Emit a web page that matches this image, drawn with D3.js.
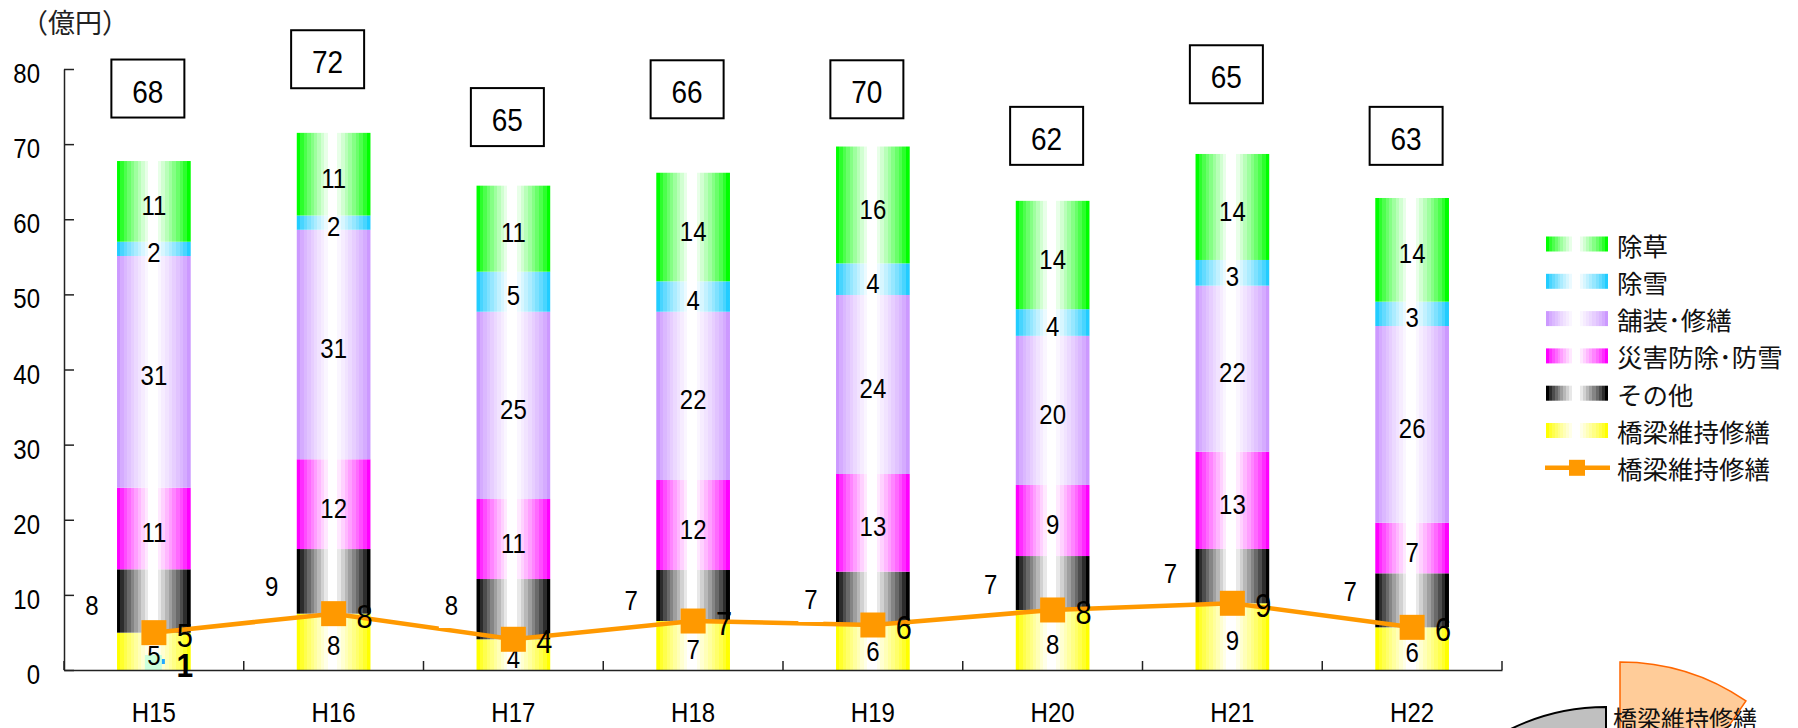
<!DOCTYPE html>
<html><head><meta charset="utf-8">
<script src="https://cdn.jsdelivr.net/npm/d3@7"></script>
<style>body{margin:0;background:#fff}svg{display:block}</style>
</head><body><svg id="c" width="1798" height="728"></svg>
<script>
// ---------- data ----------
const categories = ["H15","H16","H17","H18","H19","H20","H21","H22"];
const bridge   = [4.97, 7.5, 4.09, 6.52, 5.99, 7.99, 8.88, 5.68];     // 橋梁維持修繕 (bar)
const other    = [8.43, 8.6, 8.02, 6.79, 7.1, 7.18, 7.23, 7.19];      // その他
const disaster = [10.87, 11.95, 10.65, 11.98, 13.0, 9.46, 12.95, 6.74]; // 災害防除･防雪
const paving   = [30.84, 30.55, 24.93, 22.4, 23.83, 19.85, 22.1, 26.18]; // 舗装･修繕
const snow     = [1.9, 1.9, 5.33, 4.05, 4.21, 3.55, 3.42, 3.24];       // 除雪
const weed     = [10.74, 11.0, 11.45, 14.45, 15.55, 14.42, 14.11, 13.8]; // 除草
const lineBridge = [4.97, 7.5, 4.09, 6.52, 5.99, 7.99, 8.88, 5.68];   // 橋梁維持修繕 (line)
const totalLabels = [68, 72, 65, 66, 70, 62, 65, 63];
const totalLabelLevel = [77.4, 81.3, 73.6, 77.3, 77.3, 71.1, 79.3, 71.1];
const otherLabelLevel = [8.65, 11.18, 8.65, 9.32, 9.45, 11.34, 12.91, 10.42];
const yTicks = [0, 10, 20, 30, 40, 50, 60, 70, 80];
const seriesKeys = ["bridge","other","disaster","paving","snow","weed"];
const seriesNames = ["橋梁維持修繕","その他","災害防除･防雪","舗装･修繕","除雪","除草"];
const seriesColors = ["#FFFF00","#000000","#FF00FF","#CC99FF","#22CCFF","#00FF00"];
const legendOrder = ["weed","snow","paving","disaster","other","bridge"];
const lineName = "橋梁維持修繕";
const unitLabel = "（億円）";
const cornerLabel = "橋梁維持修繕";

// ---------- setup ----------
const svg = d3.select("#c");
const NUM = "'Liberation Sans', Arial, sans-serif";
const CJK = "'Noto Sans CJK JP', 'Noto Sans', sans-serif";
const ORANGE = "#FF9900";
const defs = svg.append("defs");

const table = categories.map((c, i) => ({cat: c, bridge: bridge[i], other: other[i], disaster: disaster[i],
  paving: paving[i], snow: snow[i], weed: weed[i]}));
const stacked = d3.stack().keys(seriesKeys)(table);

const x = d3.scaleBand().domain(categories).range([64, 1502]).padding(0);
const y = d3.scaleLinear().domain([0, 80]).range([670, 69]);
const bw = x.bandwidth() * 0.41;
const cx = c => x(c) + x.bandwidth() / 2;

function makeGrad(id, color) {
  const g = defs.append("linearGradient").attr("id", id)
    .attr("x1", 0).attr("x2", 1).attr("y1", 0).attr("y2", 0);
  const n = 9, wl = 0.42, wr = 0.55;
  const it = d3.interpolateRgb(color, "#ffffff");
  for (let i = 0; i < n; i++) {
    const c = it(Math.pow(i / n, 0.8));
    g.append("stop").attr("offset", i * wl / n).attr("stop-color", c);
    g.append("stop").attr("offset", (i + 1) * wl / n).attr("stop-color", c);
  }
  g.append("stop").attr("offset", wl).attr("stop-color", "#fff");
  g.append("stop").attr("offset", wr).attr("stop-color", "#fff");
  for (let i = 0; i < n; i++) {
    const c = it(Math.pow(1 - (i + 1) / n, 0.8));
    g.append("stop").attr("offset", wr + i * (1 - wr) / n).attr("stop-color", c);
    g.append("stop").attr("offset", wr + (i + 1) * (1 - wr) / n).attr("stop-color", c);
  }
}
seriesKeys.forEach((k, i) => makeGrad("g_" + k, seriesColors[i]));

function sText(g, px, py, txt, size, opt = {}) {
  const k = opt.k || 1.15;
  return g.append("text")
    .attr("transform", `translate(${px},${py}) scale(1,${k})`)
    .attr("text-anchor", opt.anchor || "middle")
    .attr("dominant-baseline", "central")
    .attr("font-family", opt.font || NUM)
    .attr("font-size", size)
    .attr("font-weight", opt.weight || "normal")
    .attr("fill", "#000")
    .text(txt);
}

// ---------- bars ----------
const barG = svg.append("g");
stacked.forEach(s => {
  barG.selectAll(null).data(s).join("rect")
    .attr("x", d => cx(d.data.cat) - bw / 2)
    .attr("width", bw)
    .attr("y", d => y(d[1]))
    .attr("height", d => y(d[0]) - y(d[1]))
    .attr("fill", `url(#g_${s.key})`);
});

// small artefacts at bottom of the first bar
const c0 = cx(categories[0]);
barG.append("rect").attr("x", c0 - 9).attr("y", y(0) - 15).attr("width", 17).attr("height", 15).attr("fill", "#CCFFDD");
barG.append("rect").attr("x", c0 + 8).attr("y", y(0) - 11).attr("width", 3).attr("height", 5).attr("fill", "#22AAFF");

// labels inside segments (all except その他)
const labG = svg.append("g");
stacked.forEach(s => {
  if (s.key === "other") return;
  s.forEach(d => {
    sText(labG, cx(d.data.cat), (y(d[0]) + y(d[1])) / 2 + 4, Math.round(d[1] - d[0]), 24);
  });
});

// ---------- axes ----------
const yAxis = d3.axisLeft(y).tickValues(yTicks).tickSize(-10).tickSizeOuter(0).tickPadding(24);
const yg = svg.append("g").attr("transform", `translate(${x.range()[0]},0)`).call(yAxis);
yg.select(".domain").attr("stroke", "#222").attr("stroke-width", 1.5);
yg.selectAll(".tick line").attr("stroke", "#222").attr("stroke-width", 1.5);
yg.selectAll(".tick text").attr("dy", null).attr("y", 4 / 1.15).attr("dominant-baseline", "central")
  .attr("transform", "scale(1,1.15)").attr("font-family", NUM).attr("font-size", 24).attr("fill", "#000");

const xAxis = d3.axisBottom(x).tickSize(0).tickSizeOuter(0);
const xg = svg.append("g").attr("transform", `translate(0,${y(0)})`).call(xAxis);
xg.select(".domain").attr("stroke", "#222").attr("stroke-width", 1.5);
xg.selectAll(".tick text").attr("dy", null).attr("y", 42 / 1.15).attr("dominant-baseline", "central")
  .attr("transform", "scale(1,1.15)").attr("font-family", NUM).attr("font-size", 24).attr("fill", "#000");
const bounds = categories.map(c => x(c)).concat([x.range()[1]]);
svg.append("g").selectAll("line").data(bounds).join("line")
  .attr("x1", d => d).attr("x2", d => d).attr("y1", y(0)).attr("y2", y(0) - 9)
  .attr("stroke", "#222").attr("stroke-width", 1.5);

// ---------- line ----------
const lineData = categories.map((c, i) => ({cat: c, v: lineBridge[i]}));
svg.append("path").datum(lineData)
  .attr("d", d3.line().x(d => cx(d.cat)).y(d => y(d.v)))
  .attr("fill", "none").attr("stroke", ORANGE).attr("stroke-width", 4.5);

// その他 labels with white background (left of bars)
const oG = svg.append("g");
categories.forEach((c, i) => {
  const px = cx(c) - 62, py = y(otherLabelLevel[i]);
  oG.append("rect").attr("x", px - 12.5).attr("y", py - 21).attr("width", 25).attr("height", 44).attr("fill", "#fff");
  sText(oG, px, py, Math.round(other[i]), 24);
});

// markers
svg.append("g").selectAll("rect").data(lineData).join("rect")
  .attr("x", d => cx(d.cat) - 12.5).attr("y", d => y(d.v) - 12.5)
  .attr("width", 25).attr("height", 25).attr("fill", ORANGE);

// line labels
const llG = svg.append("g");
lineData.forEach(d => sText(llG, cx(d.cat) + 31, y(d.v) + 3, Math.round(d.v), 29, {k: 1.13}));
sText(llG, c0 + 31, y(0) - 5, 1, 30, {k: 1.13, weight: "bold"});

// ---------- total boxes ----------
const tG = svg.append("g");
categories.forEach((c, i) => {
  const bx = cx(c) - 6, by = y(totalLabelLevel[i]);
  tG.append("rect").attr("x", bx - 36.5).attr("y", by - 29).attr("width", 73).attr("height", 58)
    .attr("fill", "#fff").attr("stroke", "#000").attr("stroke-width", 2);
  sText(tG, bx, by + 3, totalLabels[i], 28, {k: 1.13});
});

// ---------- unit label ----------
svg.append("text").attr("x", 21).attr("y", 21).attr("dominant-baseline", "central")
  .attr("font-family", CJK).attr("font-size", 27).attr("fill", "#222").text(unitLabel);

// ---------- legend ----------
const lg = svg.append("g");
const ly0 = 244, lstep = 37.3;
legendOrder.forEach((k, i) => {
  const idx = seriesKeys.indexOf(k);
  const yy = ly0 + i * lstep;
  lg.append("rect").attr("x", 1546).attr("y", yy - 7.5).attr("width", 62).attr("height", 15)
    .attr("fill", `url(#g_${k})`);
  lg.append("text").attr("x", 1617).attr("y", yy).attr("dominant-baseline", "central")
    .attr("font-family", CJK).attr("font-size", 25.5).attr("fill", "#111").text(seriesNames[idx]);
});
{
  const yy = ly0 + legendOrder.length * lstep;
  lg.append("line").attr("x1", 1545).attr("x2", 1610).attr("y1", yy).attr("y2", yy)
    .attr("stroke", ORANGE).attr("stroke-width", 4.5);
  lg.append("rect").attr("x", 1569).attr("y", yy - 8).attr("width", 16).attr("height", 16).attr("fill", ORANGE);
  lg.append("text").attr("x", 1617).attr("y", yy).attr("dominant-baseline", "central")
    .attr("font-family", CJK).attr("font-size", 25.5).attr("fill", "#111").text(lineName);
}

// ---------- partial pie in corner ----------
const pg = svg.append("g");
pg.append("path").attr("transform", "translate(1606,924)")
  .attr("d", d3.arc().innerRadius(0).outerRadius(217)({startAngle: -1.0, endAngle: 0}))
  .attr("fill", "#C0C0C0").attr("stroke", "#000").attr("stroke-width", 2);
pg.append("path").attr("transform", "translate(1620,885)")
  .attr("d", d3.arc().innerRadius(0).outerRadius(223)({startAngle: 0, endAngle: 0.6}))
  .attr("fill", "#FFCC99").attr("stroke", "#FF6600").attr("stroke-width", 1.5);
pg.append("text").attr("x", 1613).attr("y", 717).attr("dominant-baseline", "central")
  .attr("font-family", CJK).attr("font-size", 24).attr("fill", "#111").text(cornerLabel);
</script></body></html>
